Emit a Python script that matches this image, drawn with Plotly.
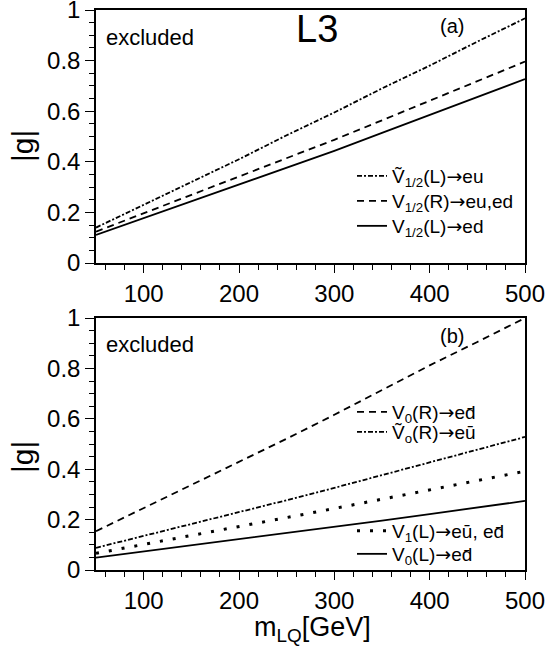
import plotly.graph_objects as go

# ---------------- data ----------------
mass = [50, 100, 150, 200, 250, 300, 350, 400, 450, 500]

# panel (a)
a_vt_half_L_eu = [0.14, 0.23, 0.32, 0.41, 0.505, 0.595, 0.69, 0.78, 0.875, 0.967]
a_v_half_R = [0.124, 0.196, 0.268, 0.34, 0.413, 0.487, 0.564, 0.641, 0.718, 0.796]
a_v_half_L_ed = [0.111, 0.177, 0.243, 0.309, 0.375, 0.443, 0.514, 0.585, 0.656, 0.727]

# panel (b)
b_v0_R = [0.154, 0.245, 0.337, 0.429, 0.521, 0.616, 0.714, 0.812, 0.905, 1.0]
b_vt0_R = [0.088, 0.135, 0.183, 0.23, 0.277, 0.326, 0.376, 0.426, 0.477, 0.528]
b_v1_L = [0.066, 0.101, 0.137, 0.172, 0.208, 0.244, 0.281, 0.318, 0.355, 0.392]
b_v0_L = [0.049, 0.073, 0.097, 0.121, 0.146, 0.171, 0.196, 0.222, 0.248, 0.274]

x_ticks = [100, 200, 300, 400, 500]
y_ticks = [0, 0.2, 0.4, 0.6, 0.8, 1]

ARROW = '<span style="font-family:DejaVu Sans">→</span>'
lab_a = ["Ṽ<sub>1/2</sub>(L)" + ARROW + "eu",
         "V<sub>1/2</sub>(R)" + ARROW + "eu,ed",
         "V<sub>1/2</sub>(L)" + ARROW + "ed"]
lab_b = ["V<sub>0</sub>(R)" + ARROW + "ed\u0304",
         "Ṽ<sub>o</sub>(R)" + ARROW + "eu\u0304",
         "V<sub>1</sub>(L)" + ARROW + "eu\u0304, ed\u0304",
         "V<sub>0</sub>(L)" + ARROW + "ed\u0304"]

# ---------------- styles ----------------
W, H = 548, 648
FONT = "Liberation Sans, Arial, sans-serif"
DASHDOT = "5px,2px,2px,2px"
DASH = "7px,5px"
DOT = "3px,10px"
LW = 1.8

def px_x(p):
    return p / W

def px_y(p):
    return 1 - p / H

fig = go.Figure()

def add(x, y, name, dash, xa, ya, legend, width=LW):
    fig.add_trace(go.Scatter(
        x=x, y=y, mode="lines", name=name,
        line=dict(color="black", width=width, dash=dash),
        xaxis=xa, yaxis=ya, legend=legend, showlegend=True,
        hoverinfo="skip"))

add(mass, a_vt_half_L_eu, lab_a[0], DASHDOT, "x", "y", "legend")
add(mass, a_v_half_R, lab_a[1], DASH, "x", "y", "legend2")
add(mass, a_v_half_L_ed, lab_a[2], "solid", "x", "y", "legend3")

add(mass, b_v0_R, lab_b[0], DASH, "x2", "y2", "legend4")
add(mass, b_vt0_R, lab_b[1], DASHDOT, "x2", "y2", "legend5")
add(mass, b_v1_L, lab_b[2], DOT, "x2", "y2", "legend6", width=3)
add(mass, b_v0_L, lab_b[3], "solid", "x2", "y2", "legend7")

xdom = [px_x(96), px_x(525)]

def xaxis(anchor):
    return dict(domain=xdom, range=[50, 500], anchor=anchor, automargin=False,
                ticklabeloverflow="allow",
                tickvals=x_ticks, ticks="outside", ticklen=8, tickwidth=1.3,
                tickcolor="black", showline=True, linecolor="black", linewidth=1.5,
                mirror=True, showgrid=False, zeroline=False,
                tickfont=dict(family=FONT, size=24, color="black"),
                minor=dict(dtick=20, tick0=0, ticks="outside", ticklen=5,
                           tickwidth=1, tickcolor="black", showgrid=False))

def yaxis(anchor, dom):
    return dict(domain=dom, range=[0, 1], anchor=anchor, automargin=False,
                ticklabeloverflow="allow",
                tickvals=y_ticks, ticks="outside", ticklen=9, tickwidth=1.3,
                tickcolor="black", showline=True, linecolor="black", linewidth=1.5,
                mirror=True, showgrid=False, zeroline=False,
                tickfont=dict(family=FONT, size=24, color="black"),
                minor=dict(dtick=0.05, tick0=0, ticks="outside", ticklen=5,
                           tickwidth=1, tickcolor="black", showgrid=False))

def legend(center_px, left_px=352):
    return dict(x=px_x(left_px), y=px_y(center_px), xanchor="left", yanchor="middle",
                bgcolor="rgba(0,0,0,0)", borderwidth=0, itemwidth=30,
                font=dict(family=FONT, size=19, color="black"),
                traceorder="normal", itemclick=False, itemdoubleclick=False)

ann = []
def text(t, xp, yp, size, xanchor="center", yanchor="middle", angle=0):
    ann.append(dict(text=t, x=px_x(xp), y=px_y(yp), xref="paper", yref="paper",
                    showarrow=False, xanchor=xanchor, yanchor=yanchor,
                    textangle=angle,
                    font=dict(family=FONT, size=size, color="black")))

text("excluded", 104, 37, 22, xanchor="left")
text("L3", 317, 29, 38)
text("(a)", 452, 26, 20)
text("excluded", 104, 344, 22, xanchor="left")
text("(b)", 452, 336, 20)
text("|g|", 22, 146, 30, angle=-90)
text("|g|", 22, 457, 30, angle=-90)
text("m<sub>LQ</sub>[GeV]", 312, 629, 27)

fig.update_layout(
    width=W, height=H,
    margin=dict(l=0, r=0, t=0, b=0, autoexpand=False),
    paper_bgcolor="white", plot_bgcolor="white",
    xaxis=xaxis("y"),
    yaxis=yaxis("x", [px_y(263), px_y(10)]),
    xaxis2=xaxis("y2"),
    yaxis2=yaxis("x2", [px_y(570), px_y(318)]),
    legend=legend(176),
    legend2=legend(201),
    legend3=legend(226),
    legend4=legend(412),
    legend5=legend(432),
    legend6=legend(531),
    legend7=legend(554),
    annotations=ann,
    showlegend=True,
)

fig.write_html("out.html",
               config={"displayModeBar": False},
               post_script="document.body.style.margin='0';document.body.style.overflow='hidden';")
